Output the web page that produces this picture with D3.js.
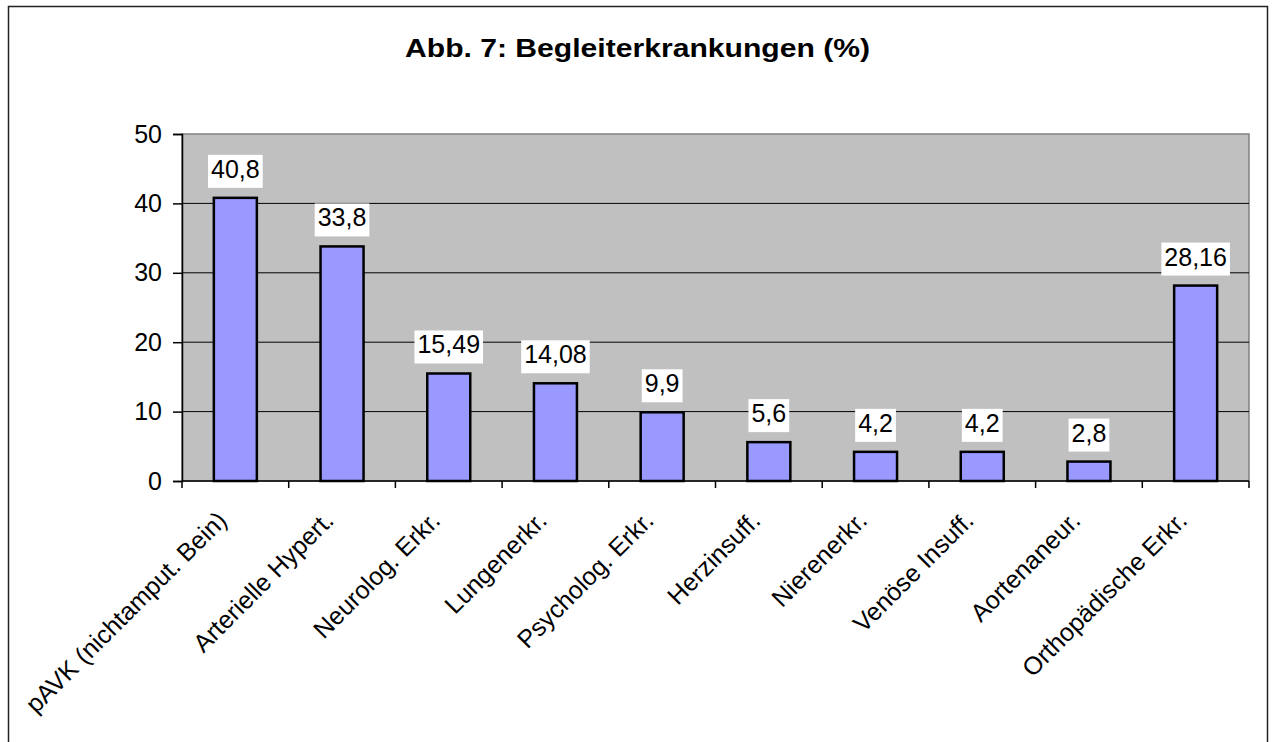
<!DOCTYPE html>
<html><head><meta charset="utf-8">
<script src="https://cdn.jsdelivr.net/npm/d3@7"></script>
<style>body{margin:0;background:#fff}svg{display:block}text{font-family:"Liberation Sans",Arial,sans-serif}</style>
</head><body>
<svg id="c" width="1274" height="742"></svg>
<script>
const categories = ["pAVK (nichtamput. Bein)","Arterielle Hypert.","Neurolog. Erkr.","Lungenerkr.","Psycholog. Erkr.","Herzinsuff.","Nierenerkr.","Venöse Insuff.","Aortenaneur.","Orthopädische Erkr."];
const values = [40.8,33.8,15.49,14.08,9.9,5.6,4.2,4.2,2.8,28.16];
const valueLabels = ["40,8","33,8","15,49","14,08","9,9","5,6","4,2","4,2","2,8","28,16"];
const yTicks = [0,10,20,30,40,50];
const title = "Abb. 7: Begleiterkrankungen (%)";

const svg = d3.select("#c");
const L=182, R=1249, T=134, B=481;
const FS = 25;
svg.append("rect").attr("x",8.5).attr("y",6.5).attr("width",1259).attr("height",760).attr("fill","#fff").attr("stroke","#222").attr("stroke-width",1.5);
svg.append("text").attr("x",637.5).attr("y",57).attr("text-anchor","middle").attr("font-weight","bold").attr("font-size",26)
  .attr("textLength",465).attr("lengthAdjust","spacingAndGlyphs").text(title);

const xb = d3.scaleBand().domain(categories).range([L,R]);
const y = d3.scaleLinear().domain([0,50]).range([B,T]);

svg.append("rect").attr("x",L).attr("y",T).attr("width",R-L).attr("height",B-T).attr("fill","#C0C0C0").attr("stroke","#808080").attr("stroke-width",1.5);
svg.append("g").selectAll("line").data(yTicks.filter(d=>d>0&&d<50)).join("line")
  .attr("x1",L).attr("x2",R).attr("y1",d=>y(d)).attr("y2",d=>y(d)).attr("stroke","#000").attr("stroke-width",1);

svg.append("g").selectAll("rect").data(values).join("rect")
  .attr("x",(d,i)=>xb(categories[i])+xb.bandwidth()/2-21.5).attr("width",43)
  .attr("y",d=>y(d)).attr("height",d=>B-y(d)).attr("fill","#9999FF").attr("stroke","#000").attr("stroke-width",2.5);

// y axis
const ya = svg.append("g").attr("transform",`translate(${L},0)`).call(d3.axisLeft(y).tickValues(yTicks).tickSize(9).tickPadding(11));
ya.select(".domain").attr("stroke","#000").attr("stroke-width",1.5);
ya.selectAll(".tick line").attr("stroke","#000").attr("stroke-width",1.5);
ya.selectAll("text").attr("font-size",FS).attr("font-family","Liberation Sans, Arial, sans-serif").attr("fill","#000");

// x axis
const xa = svg.append("g").attr("transform",`translate(0,${B})`);
xa.append("line").attr("x1",L).attr("x2",R).attr("stroke","#000").attr("stroke-width",1.5);
const edges = categories.map(c=>xb(c)).concat([R]);
xa.selectAll("line.t").data(edges).join("line").attr("class","t").attr("x1",d=>d).attr("x2",d=>d).attr("y1",0).attr("y2",7).attr("stroke","#000").attr("stroke-width",1.5);
xa.selectAll("text").data(categories).join("text")
  .attr("transform",d=>`translate(${xb(d)+xb.bandwidth()/2-7},${41}) rotate(-45)`)
  .attr("text-anchor","end").attr("font-size",FS).text(d=>d);

// value labels
const lg = svg.append("g");
values.forEach((v,i)=>{
  const cx = xb(categories[i])+xb.bandwidth()/2;
  const bottom = y(v)-10;
  const t = lg.append("text").attr("x",cx).attr("y",bottom-10).attr("text-anchor","middle").attr("font-size",FS).text(valueLabels[i]);
  const bb = t.node().getBBox();
  lg.insert("rect","text").attr("x",bb.x-3).attr("y",bottom-33).attr("width",bb.width+6).attr("height",33).attr("fill","#fff");
});
</script>
</body></html>
